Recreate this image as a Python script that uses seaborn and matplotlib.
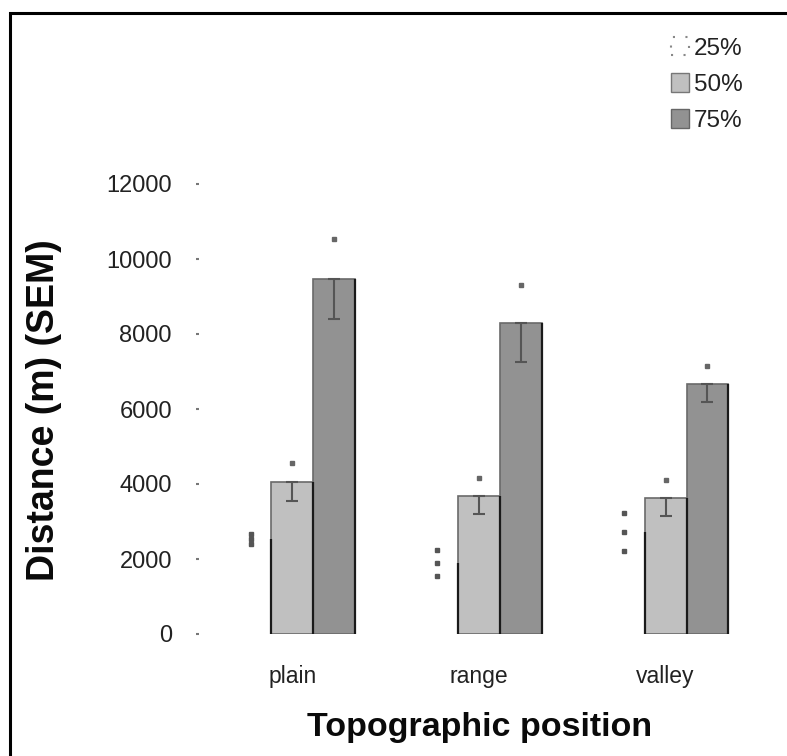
import matplotlib
matplotlib.use("Agg")
import matplotlib.pyplot as plt
import seaborn as sns
import pandas as pd
from matplotlib.patches import Patch, Rectangle

# Mean distance (m) by topographic position and percentile, with SEM
positions = ["plain", "range", "valley"]
percentiles = ["25%", "50%", "75%"]
mean_25 = [2530, 1900, 2720]
mean_50 = [4050, 3680, 3630]
mean_75 = [9470, 8290, 6670]
sem_25 = [140, 350, 500]
sem_50 = [510, 480, 480]
sem_75 = [1070, 1030, 470]
y_ticks = [0, 2000, 4000, 6000, 8000, 10000, 12000]

means = {"25%": mean_25, "50%": mean_50, "75%": mean_75}
sems = {"25%": sem_25, "50%": sem_50, "75%": sem_75}
df = pd.DataFrame(
    [(pos, pc, means[pc][i]) for pc in percentiles for i, pos in enumerate(positions)],
    columns=["position", "percentile", "distance"],
)

sns.set_theme(style="white")
plt.rcParams["font.family"] = ["Liberation Sans", "DejaVu Sans"]

fig = plt.figure(figsize=(7.87, 7.56), dpi=100)
W, H = 787, 756
ax = fig.add_axes([199 / W, (H - 634) / H, (759 - 199) / W, (634 - 184) / H])

fills = {"25%": "#ffffff", "50%": "#c0c0c0", "75%": "#929292"}
sns.barplot(data=df, x="position", y="distance", hue="percentile",
            order=positions, hue_order=percentiles, palette=fills,
            width=0.67, gap=0, errorbar=None, legend=False, ax=ax,
            edgecolor="#6a6a6a", linewidth=1.2)

for pc, cont in zip(percentiles, ax.containers):
    for bar, err in zip(cont.patches, sems[pc]):
        cx = bar.get_x() + bar.get_width() / 2
        top = bar.get_height()
        # dark right side of each bar
        ax.vlines(bar.get_x() + bar.get_width(), 0, top, color="#1a1a1a", lw=1.6, zorder=3)
        if pc == "25%":
            bar.set_edgecolor("none")
            ax.plot([cx, cx, cx], [top - err, top, top + err], ls="none",
                    marker="s", ms=2.2, color="#555555", zorder=4)
        else:
            ax.errorbar(cx, top, yerr=[[err], [0]], fmt="none", ecolor="#555555",
                        elinewidth=1.5, capsize=4, capthick=1.5, zorder=4)
            ax.plot([cx], [top + err], ls="none", marker="s", ms=2.2,
                    color="#666666", zorder=4)

ax.set_xlim(-0.5, 2.5)
ax.set_ylim(0, 12000)
ax.set_yticks(y_ticks)
ax.set_yticklabels([str(v) for v in y_ticks], fontsize=17, color="#222222")
ax.tick_params(axis="y", length=2.5, width=1.5, color="#777777", direction="out",
               pad=17, left=True)
ax.tick_params(axis="x", length=0, pad=22, labelsize=16.5, labelcolor="#222222")
for s in ax.spines.values():
    s.set_visible(False)

ax.set_xlabel("Topographic position", fontsize=24.5, fontweight="bold", color="#0a0a0a")
ax.set_ylabel("Distance (m) (SEM)", fontsize=27, fontweight="bold", color="#0a0a0a")
ax.xaxis.set_label_coords((480 - 199) / 560, -(712 - 634) / 450)
ax.yaxis.set_label_coords(-(199 - 62) / 560, (634 - 410) / 450)

handles = [
    Patch(facecolor="#ffffff", edgecolor="#888888", linestyle=(0, (1, 5)), linewidth=1.5),
    Patch(facecolor="#c0c0c0", edgecolor="#777777", linewidth=1.0),
    Patch(facecolor="#929292", edgecolor="#666666", linewidth=1.0),
]
fig.legend(handles, percentiles, loc="upper left", bbox_to_anchor=(649 / W, 1 - 15 / H),
           frameon=False, fontsize=17.5, handlelength=0.75, handleheight=0.8,
           handletextpad=0.2, labelspacing=0.55, labelcolor="#222222")

# figure frame (left and top edges)
fig.add_artist(Rectangle((9.5 / W, -0.1), 1.2, 1.1 - 12.5 / H, transform=fig.transFigure,
                         fill=False, edgecolor="black", linewidth=2.2))

fig.savefig("out.png", dpi=100, facecolor="white")
